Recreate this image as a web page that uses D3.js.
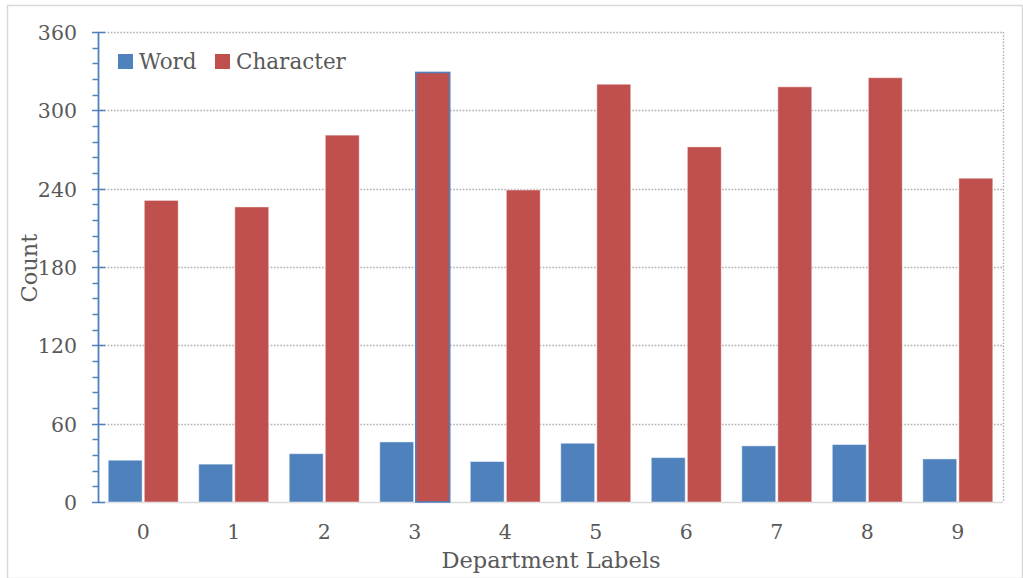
<!DOCTYPE html>
<html>
<head>
<meta charset="utf-8">
<script src="https://cdn.jsdelivr.net/npm/d3@7"></script>
<style>
  html, body { margin: 0; padding: 0; background: #fff; }
  svg { display: block; }
  text { font-family: "DejaVu Serif", "Liberation Serif", serif; fill: #595959; }
</style>
</head>
<body>
<svg id="chart" width="1023" height="578"></svg>
<script>
// Counts per department label
const categories = ["0", "1", "2", "3", "4", "5", "6", "7", "8", "9"];
const seriesNames = ["Word", "Character"];
const wordCounts = [32, 29, 37, 46, 31, 45, 34, 43, 44, 33];
const characterCounts = [231, 226, 281, 329, 239, 320, 272, 318, 325, 248];
const yTicks = [0, 60, 120, 180, 240, 300, 360];
const colors = { Word: "#4F81BD", Character: "#C0504D" };

const W = 1023, H = 578;
const margin = { left: 98, right: 20, top: 32, bottom: 76 };
const plotW = 1003 - margin.left;
const plotH = 502 - margin.top;

const svg = d3.select("#chart");

// outer frame
svg.append("rect")
  .attr("x", 7.5).attr("y", 5.5)
  .attr("width", W - 8).attr("height", H - 5)
  .attr("fill", "none").attr("stroke", "#d9d9d9").attr("stroke-width", 1.5);

const g = svg.append("g").attr("transform", `translate(${margin.left},${margin.top})`);

const x0 = d3.scaleBand().domain(categories).range([0, plotW]).paddingInner(0.227).paddingOuter(0.113);
const x1 = d3.scaleBand().domain(seriesNames).range([0, x0.bandwidth()]).paddingInner(0.06);
const y = d3.scaleLinear().domain([0, 360]).range([plotH, 0]);

// dotted gridlines
g.append("g").selectAll("line")
  .data(yTicks.filter(t => t > 0))
  .join("line")
  .attr("x1", 0).attr("x2", plotW)
  .attr("y1", d => Math.round(y(d)) + 0.5).attr("y2", d => Math.round(y(d)) + 0.5)
  .attr("stroke", "#b0b0b0").attr("stroke-width", 1.4).attr("stroke-dasharray", "1.6,1.6");

// dotted right edge of plot area
g.append("line")
  .attr("x1", plotW + 0.5).attr("x2", plotW + 0.5)
  .attr("y1", 0).attr("y2", plotH)
  .attr("stroke", "#b0b0b0").attr("stroke-width", 1.4).attr("stroke-dasharray", "1.6,1.6");

// category axis baseline
g.append("line")
  .attr("x1", 0).attr("x2", plotW)
  .attr("y1", plotH + 0.5).attr("y2", plotH + 0.5)
  .attr("stroke", "#d9d9d9").attr("stroke-width", 1.5);

// bars
const rows = categories.map((c, i) => ({ cat: c, Word: wordCounts[i], Character: characterCounts[i] }));
const groups = g.append("g").selectAll("g")
  .data(rows)
  .join("g")
  .attr("transform", d => `translate(${x0(d.cat)},0)`);

groups.selectAll("rect")
  .data(d => seriesNames.map(k => ({ key: k, value: d[k], cat: d.cat })))
  .join("rect")
  .attr("x", d => x1(d.key))
  .attr("y", d => y(d.value))
  .attr("width", x1.bandwidth())
  .attr("height", d => y(0) - y(d.value))
  .attr("fill", d => colors[d.key])
  .attr("stroke", d => (d.cat === "3" && d.key === "Character") ? "#4F81BD" : "rgba(255,255,255,0.45)")
  .attr("stroke-width", d => (d.cat === "3" && d.key === "Character") ? 1.6 : 1);

// value axis with minor ticks
const minor = d3.range(0, 361, 12);
g.append("g").selectAll("line")
  .data(minor)
  .join("line")
  .attr("x1", d => yTicks.includes(d) ? -6 : -5.5).attr("x2", d => yTicks.includes(d) ? 7 : 0)
  .attr("y1", d => Math.round(y(d)) + 0.5).attr("y2", d => Math.round(y(d)) + 0.5)
  .attr("stroke", "#4F81BD").attr("stroke-width", 1.5);

g.append("line")
  .attr("x1", 0.5).attr("x2", 0.5).attr("y1", 0).attr("y2", plotH + 1)
  .attr("stroke", "#4F81BD").attr("stroke-width", 1.8);

const yAxis = d3.axisLeft(y).tickValues(yTicks).tickSize(0).tickPadding(21);
const ya = g.append("g").call(yAxis);
ya.select(".domain").remove();
ya.selectAll("text").attr("font-size", 20.5).attr("font-family", "DejaVu Serif").attr("fill", "#595959").attr("dy", "0.36em");

const xAxis = d3.axisBottom(x0).tickSize(0).tickPadding(22);
const xa = g.append("g").attr("transform", `translate(0,${plotH})`).call(xAxis);
xa.select(".domain").remove();
xa.selectAll("text").attr("font-size", 20.5).attr("font-family", "DejaVu Serif").attr("fill", "#595959");

// axis titles
svg.append("text")
  .attr("x", 551).attr("y", 568)
  .attr("text-anchor", "middle").attr("font-size", 22.5)
  .text("Department Labels");

svg.append("text")
  .attr("transform", "translate(37,268) rotate(-90)")
  .attr("text-anchor", "middle").attr("font-size", 22.5)
  .text("Count");

// legend
const legend = svg.append("g");
const legendItems = [{ name: "Word", x: 118 }, { name: "Character", x: 215 }];
legend.selectAll("rect")
  .data(legendItems)
  .join("rect")
  .attr("x", d => d.x).attr("y", 54)
  .attr("width", 15).attr("height", 15)
  .attr("fill", d => colors[d.name]);
legend.selectAll("text")
  .data(legendItems)
  .join("text")
  .attr("x", d => d.x + 21).attr("y", 69)
  .attr("font-size", 21.5)
  .text(d => d.name);
</script>
</body>
</html>
